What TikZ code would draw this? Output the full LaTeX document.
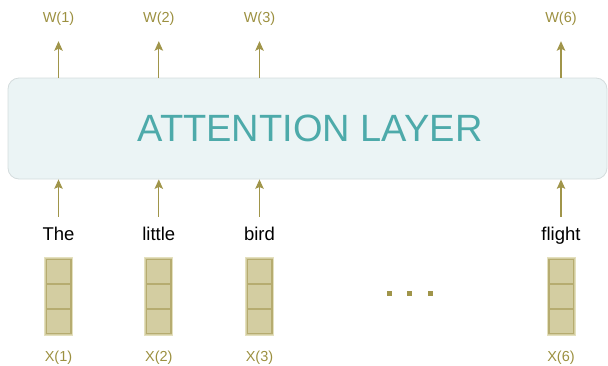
\documentclass[tikz,border=0pt]{standalone}
\usepackage{fontspec}
\setmainfont{Liberation Sans}
\usetikzlibrary{arrows.meta}
\definecolor{olive}{HTML}{A0954A}
\definecolor{labelolive}{HTML}{9C9040}
\definecolor{cellfill}{HTML}{D3CDA1}
\definecolor{cellline}{HTML}{B6AC70}
\definecolor{celledge}{HTML}{E4E0BE}
\definecolor{layerfill}{HTML}{EBF4F5}
\definecolor{layerline}{HTML}{D4DCDD}
\definecolor{layertext}{HTML}{4DAAAA}
\tikzset{
  layerbox/.style={draw=layerline, fill=layerfill, line width=0.8pt, rounded corners=11pt,
    minimum width=599pt, minimum height=101pt, inner sep=0pt},
  flow/.style={draw=olive, line width=1.1pt, -{Stealth[length=9.5pt,width=8.5pt,inset=2pt]}},
  outlabel/.style={text=labelolive, font=\fontsize{14.5}{16}\selectfont, inner sep=0pt,
    text height=11pt, text depth=3pt, anchor=base},
  word/.style={text=black, font=\fontsize{18.5}{20}\selectfont, inner sep=0pt,
    text height=13pt, text depth=4pt, anchor=base},
  vector/.style={draw=celledge, fill=cellfill, line width=1pt, minimum width=28pt,
    minimum height=78.5pt, inner sep=0pt},
  cell/.style={draw=cellline, line width=1.5pt, minimum width=24.5pt,
    minimum height=24.2pt, inner sep=0pt},
  dot/.style={fill=olive, minimum size=5pt, inner sep=0pt}
}
\begin{document}
\begin{tikzpicture}[x=1pt,y=-1pt]
\useasboundingbox (0,0) rectangle (608,365);

% the attention layer
\node[layerbox] (layer) at (307.5,128.5) {};
\node[text=layertext, font=\fontsize{38}{40}\selectfont, inner sep=0pt] (title) at (310,128) {ATTENTION LAYER};

% one column per token: output label, word, embedding vector, input label
\foreach \i/\x/\w in {1/58.5/The, 2/158.8/little, 3/259.5/bird, 6/561/flight} {
  \node[outlabel] (w\i) at (\x,22) {W(\i)};
  \node[word] (t\i) at (\x,240) {\w};
  \node[vector] (v\i) at (\x,296.5) {};
  \node[cell] (c\i a) at (\x,271.4) {};
  \node[cell] (c\i b) at (\x,296.5) {};
  \node[cell] (c\i c) at (\x,321.6) {};
  \node[outlabel] (x\i) at (\x,361.5) {X(\i)};
  \draw[flow] (layer.north -| w\i) -- ([yshift=-16pt]w\i.south);
  \draw[flow] ([yshift=10pt]t\i.north) -- (layer.south -| t\i);
}

% ellipsis between the visible columns
\node[dot] (d1) at (389.7,293) {};
\node[dot] (d2) at (409.7,293) {};
\node[dot] (d3) at (430.8,293) {};
\end{tikzpicture}
\end{document}
